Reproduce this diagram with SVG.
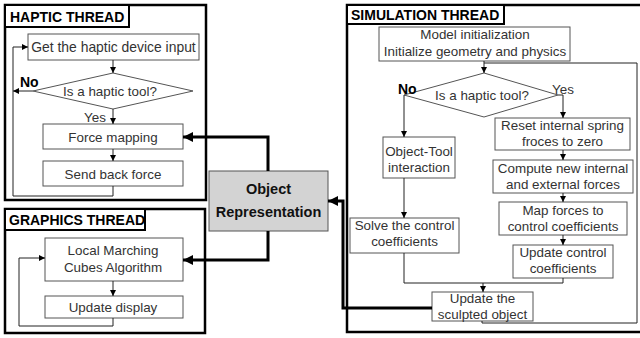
<svg xmlns="http://www.w3.org/2000/svg" width="640" height="338" viewBox="0 0 640 338">
  <style>
    .thread { fill: #fff; stroke: #000; stroke-width: 2.5; }
    .tab { fill: #fff; stroke: #000; stroke-width: 2; }
    .tabtxt { font-family: "Liberation Sans", Arial, sans-serif; font-size: 14px; font-weight: bold; fill: #000; }
    .box { fill: #fff; stroke: #555; stroke-width: 1; }
    .txt { font-family: "Liberation Sans", Arial, sans-serif; font-size: 13.4px; fill: #333; text-anchor: middle; }
    .lbl { font-family: "Liberation Sans", Arial, sans-serif; font-size: 13.4px; fill: #333; }
    .no { font-family: "Liberation Sans", Arial, sans-serif; font-size: 14px; font-weight: bold; fill: #000; }
    .line { fill: none; stroke: #222; stroke-width: 1; }
    .thick { fill: none; stroke: #000; stroke-width: 3; }
    .obj { fill: #d3d3d3; stroke: #555; stroke-width: 1; }
    .objtxt { font-family: "Liberation Sans", Arial, sans-serif; font-size: 14.5px; font-weight: bold; fill: #111; text-anchor: middle; }
  </style>
  <defs>
    <marker id="arr" viewBox="0 0 10 10" refX="10" refY="5" markerWidth="6" markerHeight="6" markerUnits="userSpaceOnUse" orient="auto">
      <path d="M0,0 L10,5 L0,10 z" fill="#000"/>
    </marker>
    <marker id="arrBig" viewBox="0 0 10 10" refX="10" refY="5" markerWidth="11" markerHeight="10" markerUnits="userSpaceOnUse" orient="auto">
      <path d="M0,0 L10,5 L0,10 z" fill="#000"/>
    </marker>
  </defs>

  <!-- Haptic thread -->
  <g id="haptic-thread">
    <rect class="thread" x="5" y="5" width="201" height="195"/>
    <rect class="tab" x="5" y="5" width="124" height="22"/>
    <text class="tabtxt" x="10" y="22">HAPTIC THREAD</text>
  </g>
  <g id="h-input">
    <rect class="box" x="28" y="34" width="171" height="26"/>
    <text class="txt" x="113.5" y="52" style="font-size:13.9px">Get the haptic device input</text>
  </g>
  <g id="h-decision">
    <polygon class="box" points="113,73 193,91 113,109 33,91"/>
    <text class="txt" x="110" y="96">Is a haptic tool?</text>
  </g>
  <g id="h-force-mapping">
    <rect class="box" x="43" y="124" width="140" height="25"/>
    <text class="txt" x="113" y="142">Force mapping</text>
  </g>
  <g id="h-send-back">
    <rect class="box" x="43" y="161" width="140" height="25"/>
    <text class="txt" x="113" y="179">Send back force</text>
  </g>

  <!-- Graphics thread -->
  <g id="graphics-thread">
    <rect class="thread" x="5" y="209" width="200" height="124"/>
    <rect class="tab" x="5" y="209" width="140" height="21"/>
    <text class="tabtxt" x="9" y="225">GRAPHICS THREAD</text>
  </g>
  <g id="g-marching">
    <rect class="box" x="45" y="238" width="138" height="43"/>
    <text class="txt" x="113" y="255">Local Marching</text>
    <text class="txt" x="113" y="272">Cubes Algorithm</text>
  </g>
  <g id="g-display">
    <rect class="box" x="45" y="296" width="138" height="22"/>
    <text class="txt" x="113" y="312">Update display</text>
  </g>

  <!-- Shared object -->
  <g id="object-representation">
    <rect class="obj" x="209" y="171" width="119" height="60"/>
    <text class="objtxt" x="268.5" y="194">Object</text>
    <text class="objtxt" x="268.5" y="217">Representation</text>
  </g>

  <!-- Simulation thread (right border runs past the edge) -->
  <g id="simulation-thread">
    <rect class="thread" x="347" y="5" width="296" height="327"/>
    <rect class="tab" x="347" y="5" width="157" height="19"/>
    <text class="tabtxt" x="351" y="20">SIMULATION THREAD</text>
  </g>
  <g id="s-init">
    <rect class="box" x="379" y="27" width="191" height="34"/>
    <text class="txt" x="475" y="39">Model initialization</text>
    <text class="txt" x="475" y="56">Initialize geometry and physics</text>
  </g>
  <g id="s-decision">
    <polygon class="box" points="484,73 558,95 484,117 404,95"/>
    <text class="txt" x="482" y="100">Is a haptic tool?</text>
  </g>
  <g id="s-object-tool">
    <rect class="box" x="383" y="137" width="72" height="41"/>
    <text class="txt" x="419" y="156">Object-Tool</text>
    <text class="txt" x="419" y="172">interaction</text>
  </g>
  <g id="s-solve">
    <rect class="box" x="350" y="218" width="109" height="35"/>
    <text class="txt" x="404.5" y="230">Solve the control</text>
    <text class="txt" x="404.5" y="246">coefficients</text>
  </g>
  <g id="s-reset">
    <rect class="box" x="495" y="118" width="135" height="32"/>
    <text class="txt" x="562.5" y="130">Reset internal spring</text>
    <text class="txt" x="562.5" y="145.5">froces to zero</text>
  </g>
  <g id="s-compute">
    <rect class="box" x="493" y="160" width="140" height="33"/>
    <text class="txt" x="563" y="173">Compute new internal</text>
    <text class="txt" x="563" y="189">and external forces</text>
  </g>
  <g id="s-map">
    <rect class="box" x="499" y="202" width="128" height="33"/>
    <text class="txt" x="563" y="215">Map forces to</text>
    <text class="txt" x="563" y="231">control coefficients</text>
  </g>
  <g id="s-update-control">
    <rect class="box" x="513" y="245" width="100" height="33"/>
    <text class="txt" x="563" y="257">Update control</text>
    <text class="txt" x="563" y="273">coefficients</text>
  </g>
  <g id="s-sculpted">
    <rect class="box" x="432" y="292" width="101" height="29"/>
    <text class="txt" x="482.5" y="303">Update the</text>
    <text class="txt" x="482.5" y="318.5">sculpted object</text>
  </g>

  <!-- Branch labels -->
  <g id="labels">
    <text class="no" x="20" y="87">No</text>
    <text class="lbl" x="84" y="122">Yes</text>
    <text class="no" x="398" y="94">No</text>
    <text class="lbl" x="552" y="94">Yes</text>
  </g>

  <!-- Connectors -->
  <g id="connectors">
    <path class="line" d="M113,60 V73" marker-end="url(#arr)"/>
    <path class="line" d="M33,91 H13" marker-end="url(#arr)"/>
    <path class="line" d="M113,109 V124" marker-end="url(#arr)"/>
    <path class="line" d="M113,149 V161" marker-end="url(#arr)"/>
    <path class="line" d="M113,186 V196 H13 V47 H28" marker-end="url(#arr)"/>

    <path class="line" d="M113,281 V296" marker-end="url(#arr)"/>
    <path class="line" d="M113,318 V326 H19 V258 H45" marker-end="url(#arr)"/>

    <path class="line" d="M484,61 V73" marker-end="url(#arr)"/>
    <path class="line" d="M404,95 V137" marker-end="url(#arr)"/>
    <path class="line" d="M558,95 H563 V118" marker-end="url(#arr)"/>
    <path class="line" d="M563,150 V160" marker-end="url(#arr)"/>
    <path class="line" d="M563,193 V202" marker-end="url(#arr)"/>
    <path class="line" d="M563,235 V245" marker-end="url(#arr)"/>
    <path class="line" d="M404,178 V218" marker-end="url(#arr)"/>
    <path class="line" d="M404,253 V283 H563 V278"/>
    <path class="line" d="M483,283 V292" marker-end="url(#arr)"/>
    <path class="line" d="M482,321 V323 H637 V63 H484"/>

    <path class="thick" d="M268,171 V137 H183" marker-end="url(#arrBig)"/>
    <path class="thick" d="M268,231 V260 H183" marker-end="url(#arrBig)"/>
    <path class="thick" d="M432,308 H343 V201 H328" marker-end="url(#arrBig)"/>
  </g>
</svg>
